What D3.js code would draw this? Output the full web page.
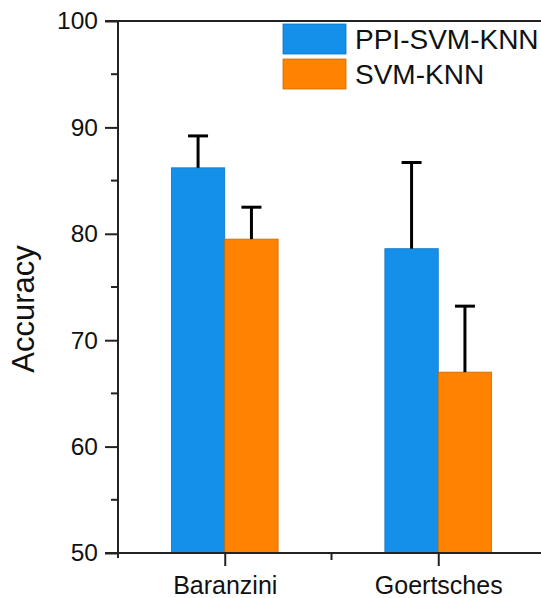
<!DOCTYPE html>
<html lang="en">
<head>
<meta charset="UTF-8">
<title>Accuracy</title>
<script src="https://d3js.org/d3.v7.min.js"></script>
<style>
  body { margin: 0; background: #fff; }
  svg text { font-family: "Liberation Sans", Arial, sans-serif; fill: #111; }
</style>
</head>
<body>
<svg width="541" height="598"></svg>
<script>
// data
const categories = ['Baranzini', 'Goertsches']
const seriesNames = ['PPI-SVM-KNN', 'SVM-KNN']
const seriesColors = ['#1590EA', '#FF8300']
const ppiValues = [86.2, 78.6]
const ppiErrors = [3.0, 8.1]
const svmValues = [79.5, 67.0]
const svmErrors = [3.0, 6.2]
const yTicks = [50, 60, 70, 80, 90, 100]

const series = [
  {name: seriesNames[0], color: seriesColors[0], values: ppiValues, errors: ppiErrors},
  {name: seriesNames[1], color: seriesColors[1], values: svmValues, errors: svmErrors}
]

const svg = d3.select('svg')
const mLeft = 118, mRight = 545, mTop = 21, mBottom = 553

// category positions 1..n on a linear scale, like the original plot
const x = d3.scaleLinear().domain([0.5, categories.length + 0.5]).range([mLeft, mRight])
const y = d3.scaleLinear().domain([50, 100]).range([mBottom, mTop])
const barW = 0.25

const g = svg.append('g')

// bars
series.forEach(function (s, si) {
  const off = si === 0 ? -barW : 0
  g.append('g').selectAll('rect')
    .data(s.values)
    .enter()
    .append('rect')
    .attr('x', (d, i) => x(i + 1 + off))
    .attr('width', x(barW) - x(0))
    .attr('y', d => y(d))
    .attr('height', d => y(50) - y(d))
    .attr('fill', s.color)
    .attr('stroke', d3.color(s.color).darker(0.6))
    .attr('stroke-width', 0.8)

  // error bars (upper only)
  const eg = g.append('g').attr('stroke', '#000').attr('stroke-width', 3)
  s.values.forEach(function (v, i) {
    const cx = x(i + 1 + off + barW / 2)
    eg.append('line')
      .attr('x1', cx).attr('x2', cx)
      .attr('y1', y(v)).attr('y2', y(v + s.errors[i]))
    eg.append('line')
      .attr('x1', cx - 10).attr('x2', cx + 10)
      .attr('y1', y(v + s.errors[i])).attr('y2', y(v + s.errors[i]))
  })
})

// y axis
const yAxis = d3.axisLeft(y).tickValues(yTicks).tickSize(13).tickPadding(7)
const ya = svg.append('g').attr('transform', 'translate(' + mLeft + ',0)').call(yAxis)
ya.select('.domain').remove()
ya.append('line').attr('x1', 0).attr('x2', 0).attr('y1', mTop).attr('y2', mBottom + 5)
  .attr('stroke', '#222').attr('stroke-width', 2)
ya.selectAll('.tick line').attr('stroke', '#222').attr('stroke-width', 2)
ya.selectAll('.tick text').attr('font-size', 24.5).attr('fill', '#111')
  .attr('font-family', '"Liberation Sans", Arial, sans-serif')
// minor ticks
ya.selectAll('.minor')
  .data(d3.range(55, 100, 10))
  .enter()
  .append('line')
  .attr('x1', -7).attr('x2', 0)
  .attr('y1', d => y(d)).attr('y2', d => y(d))
  .attr('stroke', '#222').attr('stroke-width', 2)

// x axis
const xAxis = d3.axisBottom(x).tickValues(d3.range(1, categories.length + 1))
  .tickFormat(d => categories[d - 1]).tickSize(13).tickPadding(10)
const xa = svg.append('g').attr('transform', 'translate(0,' + mBottom + ')').call(xAxis)
xa.select('.domain').remove()
xa.append('line').attr('x1', mLeft - 13).attr('x2', 541).attr('y1', 0).attr('y2', 0)
  .attr('stroke', '#222').attr('stroke-width', 2)
xa.selectAll('.tick line').attr('stroke', '#222').attr('stroke-width', 2)
xa.selectAll('.tick text').attr('font-size', 25).attr('fill', '#111')
  .attr('font-family', '"Liberation Sans", Arial, sans-serif')
xa.selectAll('.minor')
  .data([1.5])
  .enter()
  .append('line')
  .attr('x1', d => x(d)).attr('x2', d => x(d))
  .attr('y1', 0).attr('y2', 7)
  .attr('stroke', '#222').attr('stroke-width', 2)

// top frame line
svg.append('line').attr('x1', mLeft - 13).attr('x2', 541).attr('y1', mTop).attr('y2', mTop)
  .attr('stroke', '#222').attr('stroke-width', 2)

// y title
svg.append('text')
  .attr('transform', 'translate(34,' + ((mTop + mBottom) / 2 + 22) + ') rotate(-90)')
  .attr('text-anchor', 'middle')
  .attr('font-size', 31)
  .text('Accuracy')

// legend
const lg = svg.append('g').attr('transform', 'translate(283,24)')
series.forEach(function (s, i) {
  lg.append('rect')
    .attr('x', 0).attr('y', i * 35)
    .attr('width', 63).attr('height', 30)
    .attr('fill', s.color)
    .attr('stroke', d3.color(s.color).darker(0.6))
    .attr('stroke-width', 0.8)
  lg.append('text')
    .attr('x', 72).attr('y', i * 35 + 25)
    .attr('font-size', 28)
    .text(s.name)
})
</script>
</body>
</html>
